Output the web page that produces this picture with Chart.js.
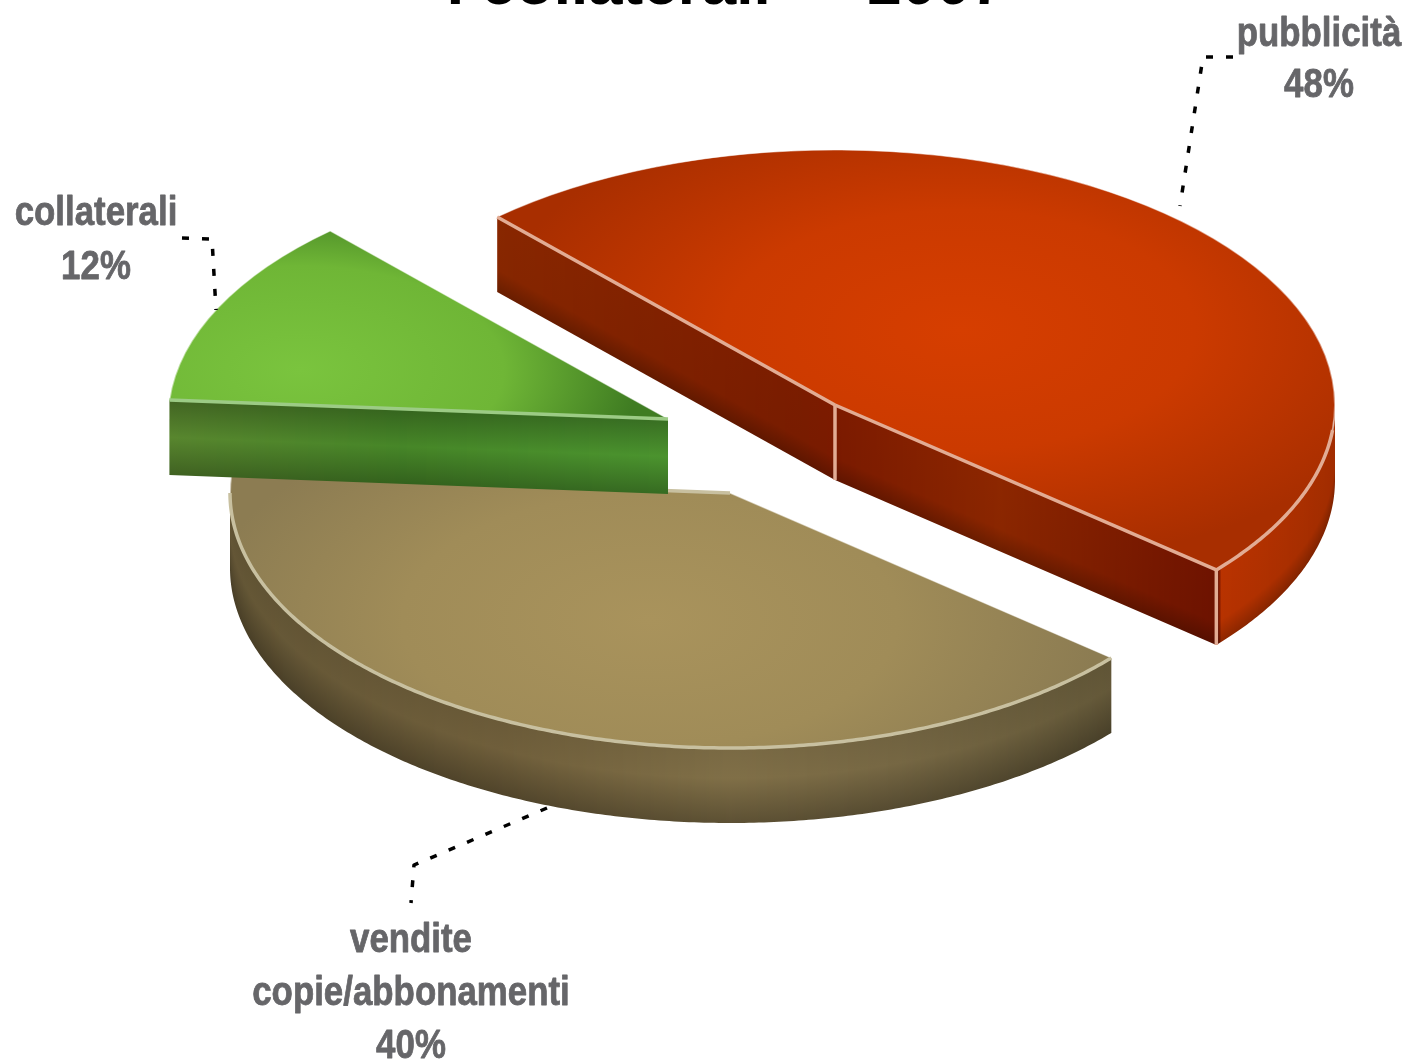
<!DOCTYPE html>
<html><head><meta charset="utf-8">
<style>html,body{margin:0;padding:0;background:#fff}canvas{display:block}</style>
<script src="https://cdn.jsdelivr.net/npm/chart.js@4/dist/chart.umd.min.js"></script>
</head><body><canvas id="c" width="1407" height="1061"></canvas>
<script>
const titleText = 'I collaterali — 2007';
const categories = ['pubblicità', 'vendite copie/abbonamenti', 'collaterali'];
const shares = [48, 40, 12];
const labelLines = [['pubblicità'], ['vendite', 'copie/abbonamenti'], ['collaterali']];

// picture geometry of the tilted pie
const SQUASH = 0.51, DEPTH = 75, CX = 775.4, CY = 436.6;
const apexShift = [[59.6, -31.6], [-45.4, 56.4], [-107.4, -17.6]];
const borderColors = ['#e2ac94', '#c8c0a0', '#9ccb85'];
const topStops = [
  [960, 330, 470, [[0, '#d63e00'], [0.5, '#cb3a00'], [1, '#a82e00']]],
  [650, 620, 450, [[0, '#a9935c'], [0.55, '#a08c58'], [1, '#8c7c52']]],
  [300, 370, 340, [[0, '#7ac43e'], [0.6, '#6fb636'], [1, '#3f7c22']]]
];
const wallX = [
  [[497, [134, 38, 0]], [800, [120, 28, 0]], [835, [122, 26, 0]], [1000, [138, 38, 0]], [1218, [108, 18, 0]], [1221, [182, 50, 0]], [1336, [160, 44, 0]]],
  [[230, [95, 82, 51]], [500, [106, 90, 56]], [730, [122, 106, 68]], [900, [112, 98, 64]], [1110, [95, 84, 54]]],
  [[171, [80, 122, 42]], [400, [64, 122, 36]], [667, [68, 134, 42]]]
];
const wallYbySlice = [
  [[0, 1.02], [0.7, 1.0], [1, 0.78]],
  [[0, 1.0], [0.4, 1.05], [1, 0.76]],
  [[0, 0.82], [0.5, 1.1], [1, 0.8]]
];
const labelPos = [
  {x: 1319, ys: [46, 97]},
  {x: 411, ys: [952, 1005, 1058]},
  {x: 96, ys: [225, 279]}
];
const leaders = [
  [[1233, 57], [1203, 57], [1180, 206]],
  [[547, 808], [414, 865], [411, 903]],
  [[182, 238], [212, 239], [216, 310]]
];

function lerpStops(stops, v) {
  if (v <= stops[0][0]) return stops[0][1];
  for (let i = 1; i < stops.length; i++) {
    if (v <= stops[i][0]) {
      const t = (v - stops[i-1][0]) / (stops[i][0] - stops[i-1][0]);
      const a = stops[i-1][1], b = stops[i][1];
      return Array.isArray(a) ? a.map((x, j) => x + (b[j] - x) * t) : a + (b - a) * t;
    }
  }
  return stops[stops.length-1][1];
}

const pie3d = {
  id: 'pie3d',
  beforeDatasetsDraw(chart) {
    const ctx = chart.ctx;
    chart.getDatasetMeta(0).data.forEach((arc, i) => {
      const tx = CX - arc.x + apexShift[i][0];
      const ty = CY - arc.y * SQUASH + apexShift[i][1];
      const P = (x, y) => [tx + x, ty + y * SQUASH];
      const R = arc.outerRadius, a0 = arc.startAngle, a1 = arc.endAngle;
      const rim = t => P(arc.x + R * Math.cos(t), arc.y + R * Math.sin(t));
      const apex = P(arc.x, arc.y);

      // one wall: clipped to its outline, filled with 1px columns shaded top to bottom
      const band = pts => {
        ctx.save();
        ctx.beginPath();
        pts.forEach((p, n) => n ? ctx.lineTo(p[0], p[1]) : ctx.moveTo(p[0], p[1]));
        for (let n = pts.length - 1; n >= 0; n--) ctx.lineTo(pts[n][0], pts[n][1] + DEPTH);
        ctx.closePath();
        ctx.clip();
        const x0 = Math.floor(pts[0][0]), x1 = Math.ceil(pts[pts.length-1][0]);
        let seg = 0;
        for (let x = x0; x < x1; x++) {
          while (seg < pts.length - 2 && pts[seg+1][0] < x + 0.5) seg++;
          const a = pts[seg], b = pts[seg+1];
          const y = a[1] + (b[1] - a[1]) * (x + 0.5 - a[0]) / (b[0] - a[0] || 1);
          const c = lerpStops(wallX[i], x);
          const g = ctx.createLinearGradient(0, y, 0, y + DEPTH);
          wallYbySlice[i].forEach(s => {
            const q = c.map(v => Math.round(Math.min(255, v * s[1])));
            g.addColorStop(s[0], `rgb(${q[0]},${q[1]},${q[2]})`);
          });
          ctx.fillStyle = g;
          ctx.fillRect(x, y - 4, 1, DEPTH + 8);
        }
        ctx.restore();
      };

      const startVisible = Math.cos(a0) < 0, endVisible = Math.cos(a1) > 0;
      if (startVisible) band([rim(a0), apex]);
      if (endVisible) band([apex, rim(a1)]);
      const from = Math.max(a0, 0), to = Math.min(a1, Math.PI);
      const curveVisible = to > from;
      const curve = [];
      if (curveVisible) {
        const steps = Math.ceil((to - from) / 0.01);
        for (let s = 0; s <= steps; s++) curve.push(rim(from + (to - from) * s / steps));
        band(curve.slice().sort((p, q) => p[0] - q[0]));
      }

      // slice top: the library's arc element under the tilt transform
      ctx.save();
      ctx.translate(tx, ty);
      ctx.scale(1, SQUASH);
      const st = topStops[i];
      const lx = st[0] - tx, ly = (st[1] - ty) / SQUASH;
      const grad = ctx.createRadialGradient(lx, ly, 0, lx, ly, st[2]);
      st[3].forEach(s => grad.addColorStop(s[0], s[1]));
      const original = arc.options;
      arc.options = Object.assign({}, original, {backgroundColor: grad});
      arc.draw(ctx);
      arc.options = original;
      ctx.restore();

      // pale bevel along the edges that face the viewer
      ctx.strokeStyle = borderColors[i];
      ctx.lineWidth = 3.5;
      ctx.lineJoin = 'round';
      const stroke = pts => {
        ctx.beginPath();
        pts.forEach((p, n) => n ? ctx.lineTo(p[0], p[1]) : ctx.moveTo(p[0], p[1]));
        ctx.stroke();
      };
      if (startVisible) stroke([rim(a0), apex]);
      if (endVisible) stroke([apex, rim(a1)]);
      if (curveVisible) stroke(from === 0 ? curve.slice(10) : curve);
      if (i === 1) stroke([apex, rim(a1)]);
      if (startVisible && endVisible) stroke([apex, [apex[0], apex[1] + DEPTH]]);
      if (endVisible && curveVisible) {
        const p = rim(a1);
        stroke([p, [p[0], p[1] + DEPTH]]);
      }
    });
    return false;
  },
  afterDraw(chart) {
    const ctx = chart.ctx;
    ctx.save();
    ctx.textAlign = 'center';
    ctx.textBaseline = 'alphabetic';
    ctx.fillStyle = '#000';
    ctx.font = 'bold 62px "Liberation Sans"';
    ctx.fillText(titleText, 726, 4);

    ctx.strokeStyle = '#000';
    ctx.lineWidth = 3.5;
    ctx.setLineDash([7, 13]);
    leaders.forEach(l => {
      ctx.beginPath();
      l.forEach((p, n) => n ? ctx.lineTo(p[0], p[1]) : ctx.moveTo(p[0], p[1]));
      ctx.stroke();
    });
    ctx.setLineDash([]);

    ctx.fillStyle = '#666669';
    ctx.strokeStyle = '#666669';
    ctx.lineWidth = 0.8;
    ctx.font = 'bold 41px "Liberation Sans"';
    categories.forEach((c, i) => {
      const lines = labelLines[i].concat([shares[i] + '%']);
      lines.forEach((t, n) => {
        ctx.save();
        ctx.translate(labelPos[i].x, labelPos[i].ys[n]);
        ctx.scale(0.85, 1);
        ctx.fillText(t, 0, 0);
        ctx.strokeText(t, 0, 0);
        ctx.restore();
      });
    });
    ctx.restore();
  }
};

new Chart(document.getElementById('c'), {
  type: 'pie',
  data: {
    labels: categories,
    datasets: [{
      data: shares,
      backgroundColor: ['#cb3a00', '#a08c58', '#6fb636'],
      borderColor: 'rgba(255,255,255,0.5)',
      borderWidth: 2
    }]
  },
  options: {
    responsive: false,
    animation: false,
    rotation: -42.5,
    radius: 500,
    layout: {padding: 0},
    plugins: {legend: {display: false}, tooltip: {enabled: false}}
  },
  plugins: [pie3d]
});
</script></body></html>
